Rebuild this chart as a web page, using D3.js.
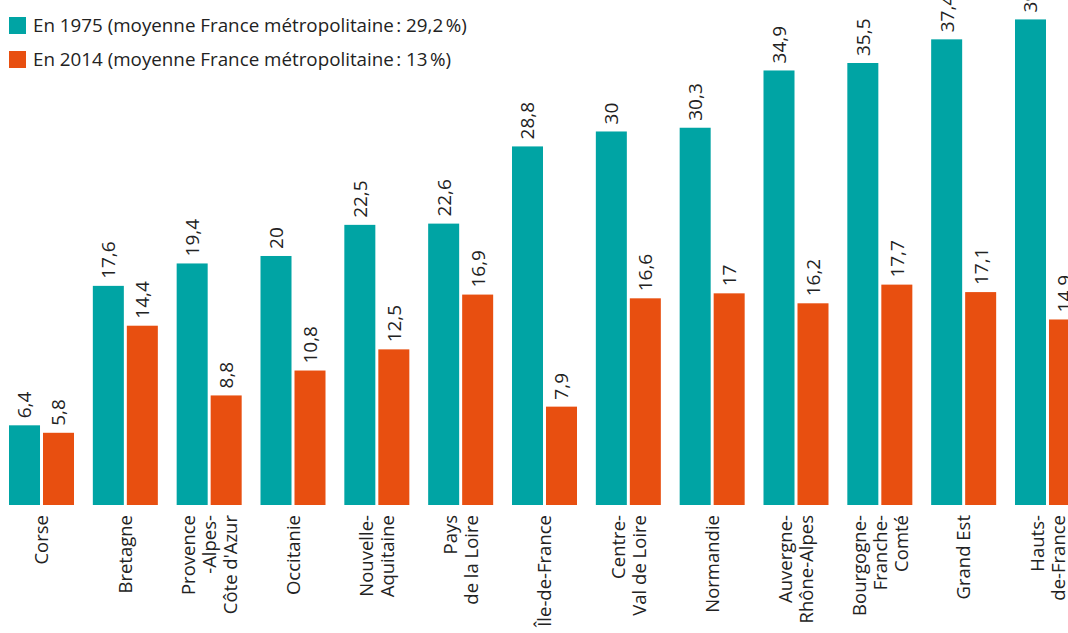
<!DOCTYPE html>
<html>
<head>
	<title>index</title>
	<meta charset="utf-8">
	<script src="https://d3js.org/d3.v7.min.js" charset="utf-8"></script>
	<style>
		body {
			margin: 0;
			background: #fff;
		}
		svg {
			display: block;
			font-family: "Open Sans", "Noto Sans", sans-serif;
		}
		text {
			fill: #222;
		}
	</style>
</head>
<body>
<script>

	var regions = [
		["Corse"],
		["Bretagne"],
		["Provence", "-Alpes-", "Côte d'Azur"],
		["Occitanie"],
		["Nouvelle-", "Aquitaine"],
		["Pays", "de la Loire"],
		["Île-de-France"],
		["Centre-", "Val de Loire"],
		["Normandie"],
		["Auvergne-", "Rhône-Alpes"],
		["Bourgogne-", "Franche-", "Comté"],
		["Grand Est"],
		["Hauts-", "de-France"]
	];
	var values1975 = [6.4, 17.6, 19.4, 20, 22.5, 22.6, 28.8, 30, 30.3, 34.9, 35.5, 37.4, 39];
	var values2014 = [5.8, 14.4, 8.8, 10.8, 12.5, 16.9, 7.9, 16.6, 17, 16.2, 17.7, 17.1, 14.9];
	var seriesNames = ["1975", "2014"];
	var legendLabels = [
		"En 1975 (moyenne France métropolitaine\u202F: 29,2\u202F%)",
		"En 2014 (moyenne France métropolitaine\u202F: 13\u202F%)"
	];
	var colors = ["#00a4a4", "#e84f10"];

	var width = 1068, height = 633;
	var baseline = 505;

	var svg = d3.select("body").append("svg")
		.attr("width", width).attr("height", height);

	var x0 = d3.scaleBand()
		.domain(d3.range(regions.length))
		.range([9, 1080])
		.paddingInner(0.2246)
		.paddingOuter(0);

	var x1 = d3.scaleBand()
		.domain(seriesNames)
		.range([0, x0.bandwidth()])
		.paddingInner(0.088);

	var y = d3.scaleLinear()
		.domain([0, 40.56])
		.range([baseline, 0]);

	var color = d3.scaleOrdinal().domain(seriesNames).range(colors);

	var rows = regions.map(function(r, i) {
		return [
			{ key: "1975", v: values1975[i] },
			{ key: "2014", v: values2014[i] }
		];
	});

	var groups = svg.selectAll("g.group").data(rows).enter().append("g")
		.attr("class", "group")
		.attr("transform", function(d, i) { return "translate(" + x0(i) + ",0)"; });

	groups.selectAll("rect").data(function(d) { return d; }).enter().append("rect")
		.attr("x", function(d) { return x1(d.key); })
		.attr("y", function(d) { return y(d.v); })
		.attr("width", x1.bandwidth())
		.attr("height", function(d) { return baseline - y(d.v); })
		.attr("fill", function(d) { return color(d.key); });

	// value labels, rotated
	var fmt = function(v) { return String(v).replace(".", ","); };
	groups.selectAll("text.val").data(function(d) { return d; }).enter().append("text")
		.attr("class", "val")
		.attr("transform", function(d) {
			var cx = x1(d.key) + x1.bandwidth() / 2;
			return "translate(" + cx + "," + (y(d.v) - 7) + ") rotate(-90)";
		})
		.attr("dy", "0.36em")
		.attr("font-size", 19)
		.style("text-anchor", "start")
		.text(function(d) { return fmt(d.v); });

	// category labels
	var lineGap = 21;
	regions.forEach(function(lines, i) {
		var cx = x0(i) + x0.bandwidth() / 2;
		var n = lines.length;
		lines.forEach(function(line, j) {
			var lx = cx + (j - (n - 1) / 2) * lineGap;
			svg.append("text")
				.attr("transform", "translate(" + lx + ",515) rotate(-90)")
				.attr("dy", "0.36em")
				.attr("font-size", 18.5)
				.style("text-anchor", "end")
				.text(line);
		});
	});

	// legend
	var legend = svg.selectAll("g.legend").data(seriesNames).enter().append("g")
		.attr("class", "legend")
		.attr("transform", function(d, i) { return "translate(9," + (17 + i * 34) + ")"; });

	legend.append("rect")
		.attr("width", 17).attr("height", 17)
		.attr("fill", function(d) { return color(d); });

	legend.append("text")
		.attr("x", 24).attr("y", 15)
		.attr("font-size", 18.8)
		.text(function(d, i) { return legendLabels[i]; });

</script>
</body>
</html>
